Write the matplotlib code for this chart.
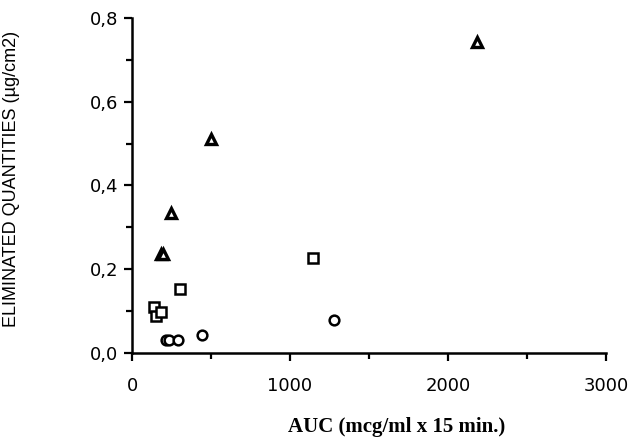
import matplotlib
matplotlib.use("Agg")
import matplotlib.pyplot as plt
from matplotlib.ticker import MultipleLocator, FuncFormatter

# Triangles
tri_x = [185, 195, 249, 497, 2181]
tri_y = [0.236, 0.236, 0.335, 0.511, 0.742]
# Squares
sq_x = [137, 154, 181, 306, 1144]
sq_y = [0.109, 0.088, 0.098, 0.152, 0.228]
# Circles
circ_x = [218, 232, 291, 443, 1281]
circ_y = [0.032, 0.032, 0.032, 0.042, 0.080]

fig = plt.figure(figsize=(6.34, 4.4), dpi=100)
ax = fig.add_axes([132 / 634, 1 - 353 / 440, (606 - 132) / 634, (353 - 18) / 440])

mk = dict(linestyle="none", markerfacecolor="white", markeredgecolor="black", clip_on=False)
ax.plot(tri_x, tri_y, marker="^", markersize=7, markeredgewidth=2.4, **mk)
ax.plot(sq_x, sq_y, marker="s", markersize=7, markeredgewidth=1.8, **mk)
ax.plot(circ_x, circ_y, marker="o", markersize=7, markeredgewidth=1.8, **mk)

ax.set_xlim(0, 3000)
ax.set_ylim(0, 0.8)
ax.xaxis.set_major_locator(MultipleLocator(1000))
ax.xaxis.set_minor_locator(MultipleLocator(500))
ax.yaxis.set_major_locator(MultipleLocator(0.2))
ax.yaxis.set_minor_locator(MultipleLocator(0.1))
ax.yaxis.set_major_formatter(FuncFormatter(lambda v, p: f"{v:.1f}".replace(".", ",")))

for s in ("top", "right"):
    ax.spines[s].set_visible(False)
for s in ("left", "bottom"):
    ax.spines[s].set_linewidth(1.8)

ax.tick_params(which="both", direction="out", width=1.6, colors="black")
ax.tick_params(which="major", length=6)
ax.tick_params(which="minor", length=4.5)
ax.tick_params(axis="x", which="major", pad=11)
ax.tick_params(axis="y", which="major", pad=4)
for lab in ax.get_xticklabels() + ax.get_yticklabels():
    lab.set_family("DejaVu Sans")
    lab.set_fontsize(13)

ax.set_xlabel("AUC (mcg/ml x 15 min.)", family="Liberation Serif", fontweight="bold",
              fontsize=15)
ax.xaxis.set_label_coords(0.559, -0.192)
ax.set_ylabel("ELIMINATED QUANTITIES (\u00b5g/cm2)", family=["Liberation Sans", "DejaVu Sans"],
              fontsize=13)
ax.yaxis.set_label_coords(-0.236, 0.52)

fig.savefig("out.png", dpi=100, facecolor="white")
